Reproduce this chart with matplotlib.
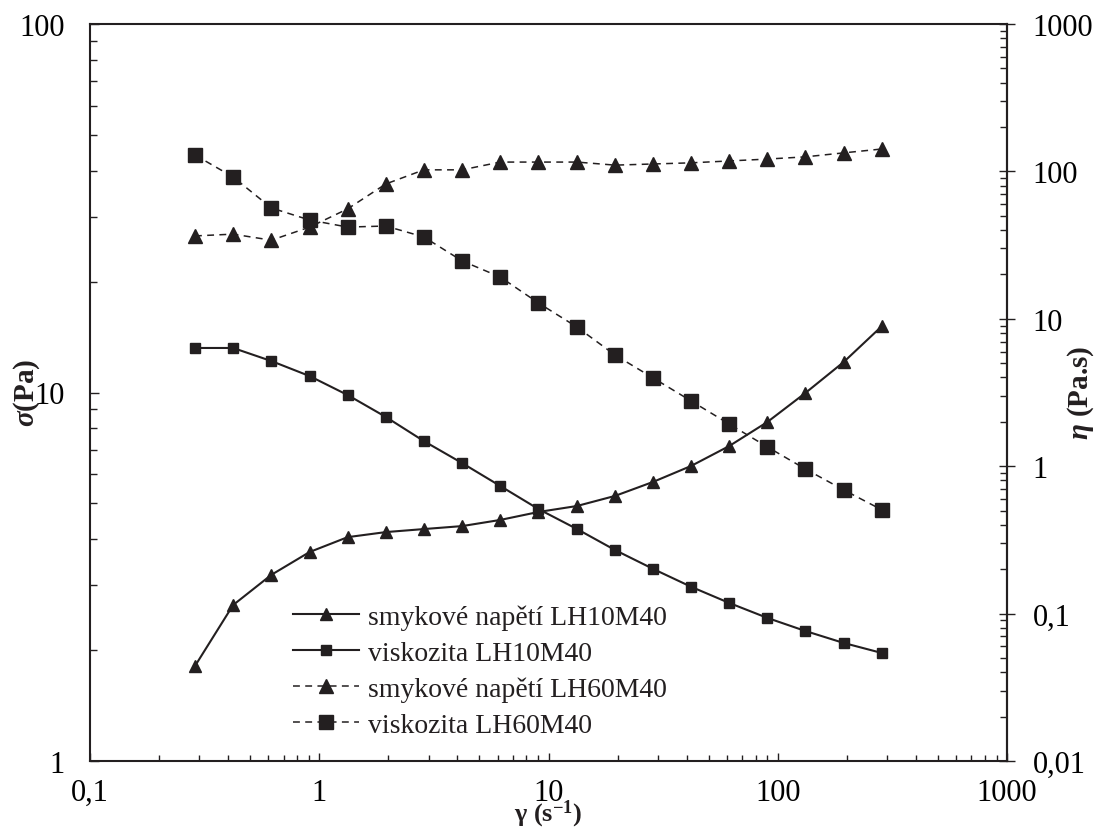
import matplotlib
matplotlib.use('Agg')
import matplotlib.pyplot as plt
from matplotlib.ticker import FixedLocator, FuncFormatter, LogLocator, NullFormatter

# ---- data ----
shear_rate = [0.287, 0.421, 0.618, 0.907, 1.33, 1.95, 2.86, 4.20, 6.16, 9.04,
              13.3, 19.5, 28.6, 41.9, 61.5, 90.2, 132, 194, 285]
stress_LH10M40 = [1.81, 2.65, 3.20, 3.69, 4.05, 4.18, 4.26, 4.34, 4.51, 4.74,
                  4.92, 5.24, 5.72, 6.32, 7.16, 8.32, 9.97, 12.1, 15.15]
visc_LH10M40 = [6.34, 6.34, 5.17, 4.09, 3.04, 2.16, 1.48, 1.05, 0.734, 0.512,
                0.375, 0.270, 0.201, 0.152, 0.118, 0.0934, 0.0762, 0.0632, 0.0540]
stress_LH60M40 = [26.6, 26.9, 25.9, 28.1, 31.5, 36.8, 40.2, 40.2, 42.2, 42.2,
                  42.2, 41.4, 41.7, 42.0, 42.5, 43.0, 43.6, 44.7, 45.8]
visc_LH60M40 = [129.2, 91.6, 56.5, 46.8, 41.9, 42.6, 35.9, 24.7, 19.2, 12.8,
                8.80, 5.68, 3.97, 2.77, 1.93, 1.35, 0.957, 0.690, 0.505]

legend_labels = ['smykové napětí LH10M40', 'viskozita LH10M40',
                 'smykové napětí LH60M40', 'viskozita LH60M40']
x_ticks = [0.1, 1, 10, 100, 1000]
left_ticks = [1, 10, 100]
right_ticks = [0.01, 0.1, 1, 10, 100, 1000]

plt.rcParams['font.family'] = ['Liberation Serif', 'DejaVu Serif']
plt.rcParams['mathtext.fontset'] = 'custom'
plt.rcParams['mathtext.rm'] = 'Liberation Serif:bold'
plt.rcParams['mathtext.it'] = 'Liberation Serif:italic:bold'
plt.rcParams['mathtext.bf'] = 'Liberation Serif:bold'

INK = '#231f20'
FS_TICK = 22
FS_LEG = 20

def comma_fmt(v, pos):
    return ('%g' % v).replace('.', ',')

W, H = 1096, 829
fig = plt.figure(figsize=(W / 100, H / 100), dpi=100)
ax = fig.add_axes([90 / W, 67 / H, 917 / W, 737 / H])
ax2 = ax.twinx()

for a in (ax, ax2):
    for s in a.spines.values():
        s.set_linewidth(1.5)
        s.set_color(INK)
ax2.spines['left'].set_visible(False)
ax2.spines['top'].set_visible(False)
ax2.spines['bottom'].set_visible(False)

l1, = ax.plot(shear_rate, stress_LH10M40, '-', color=INK, lw=1.5,
              marker='^', ms=9, mfc=INK, mec=INK)
l2, = ax2.plot(shear_rate, visc_LH10M40, '-', color=INK, lw=1.5,
               marker='s', ms=6.5, mfc=INK, mec=INK)
l3, = ax.plot(shear_rate, stress_LH60M40, color=INK, lw=1.1, dashes=(4.5, 3.5),
              marker='^', ms=10, mfc=INK, mec=INK)
l4, = ax2.plot(shear_rate, visc_LH60M40, color=INK, lw=1.1, dashes=(4.5, 3.5),
               marker='s', ms=10, mfc=INK, mec=INK)

ax.set_xscale('log')
ax.set_yscale('log')
ax2.set_yscale('log')
ax.set_xlim(0.1, 1000)
ax.set_ylim(1, 100)
ax2.set_ylim(0.01, 1000)

subs = [2, 3, 4, 5, 6, 7, 8, 9]
ax.xaxis.set_major_locator(FixedLocator(x_ticks))
ax.xaxis.set_minor_locator(LogLocator(base=10, subs=subs, numticks=20))
ax.yaxis.set_major_locator(FixedLocator(left_ticks))
ax.yaxis.set_minor_locator(LogLocator(base=10, subs=subs, numticks=20))
ax2.yaxis.set_major_locator(FixedLocator(right_ticks))
ax2.yaxis.set_minor_locator(LogLocator(base=10, subs=subs, numticks=20))
for axis in (ax.xaxis, ax.yaxis, ax2.yaxis):
    axis.set_major_formatter(FuncFormatter(comma_fmt))
    axis.set_minor_formatter(NullFormatter())

ax.tick_params(axis='x', which='major', direction='in', length=6, width=1,
               color=INK, pad=12, labelsize=FS_TICK, top=False)
ax.tick_params(axis='x', which='minor', direction='in', length=4.5, width=1,
               color=INK, top=False)
ax.tick_params(axis='y', which='major', direction='in', length=6.5, width=1,
               color=INK, pad=18, labelsize=FS_TICK, right=False)
ax.tick_params(axis='y', which='minor', direction='in', length=4.8, width=1,
               color=INK, right=False)
ax2.tick_params(axis='y', which='major', direction='inout', length=11, width=1,
                color=INK, pad=13, labelsize=FS_TICK)
ax2.tick_params(axis='y', which='minor', direction='in', length=5, width=1,
                color=INK)

fig.text(27 / W, 1 - 393 / H, r'$\sigma$(Pa)', rotation=90, ha='center',
         va='center', fontsize=21, fontweight='bold', color=INK)
fig.text(1081 / W, 1 - 393 / H, r'$\eta$ (Pa.s)', rotation=90, ha='center',
         va='center', fontsize=21, fontweight='bold', color=INK)
fig.text(548 / W, 1 - 814 / H, r'$\mathbf{\gamma}$ (s$^{\mathbf{-1}}$)',
         ha='center', va='center', fontsize=19, fontweight='bold', color=INK)

leg = ax2.legend([l1, l2, l3, l4], legend_labels, loc='lower left',
                 bbox_to_anchor=(0.221, 0.031), frameon=False, fontsize=FS_LEG,
                 handlelength=2.4, handletextpad=0.3, labelspacing=0.38,
                 borderpad=0, borderaxespad=0, numpoints=1)
for t in leg.get_texts():
    t.set_color(INK)

fig.savefig('out.png', dpi=100)
